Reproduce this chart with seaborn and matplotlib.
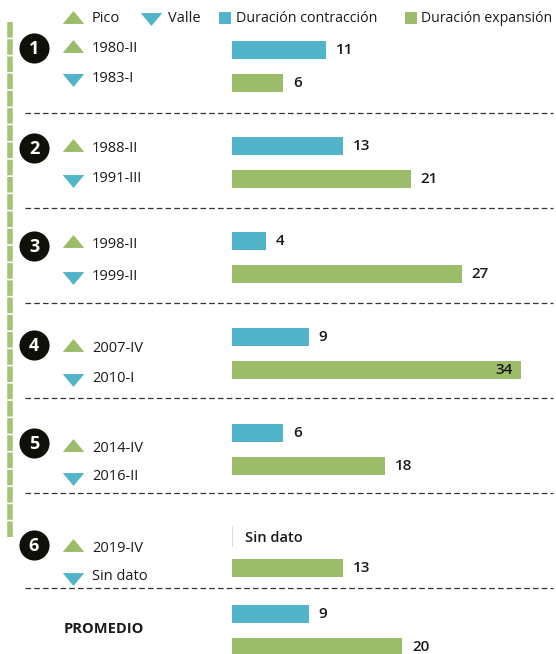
import numpy as np
import pandas as pd
import matplotlib
matplotlib.use('Agg')
import matplotlib.pyplot as plt
import seaborn as sns

sns.set_style('white')
plt.rcParams['font.family'] = ['Open Sans', 'DejaVu Sans']

# datos
grupos = ['1', '2', '3', '4', '5', '6']
pico = ['1980-II', '1988-II', '1998-II', '2007-IV', '2014-IV', '2019-IV']
valle = ['1983-I', '1991-III', '1999-II', '2010-I', '2016-II', 'Sin dato']
contraccion = [11, 13, 4, 9, 6, np.nan]
expansion = [6, 21, 27, 34, 18, 13]
promedio_contraccion = 9
promedio_expansion = 20

AZUL = '#52b4c8'
VERDE = '#9bbd69'
TXT = '#1a1a1a'
W, H = 556, 654
PX_UNIT = 8.5      # pixeles por trimestre
X0 = 232           # inicio de barras (px)

# posiciones de filas (px desde arriba)
y_contr = [50, 146, 241, 337, 433, 538, 614]
y_expan = [83, 179, 274, 370, 466, 568, 647]
y_pico = [49, 148, 244, 348, 448, 548]
y_valle = [78, 179, 276, 378, 477, 577]
y_circ = [48, 148, 246, 345, 443, 545]
y_sep = [113, 208, 303, 398, 493, 588]

filas = []
for i, g in enumerate(grupos):
    if not np.isnan(contraccion[i]):
        filas.append(['Duración contracción', contraccion[i], y_contr[i]])
    filas.append(['Duración expansión', expansion[i], y_expan[i]])
filas.append(['Duración contracción', promedio_contraccion, y_contr[-1]])
filas.append(['Duración expansión', promedio_expansion, y_expan[-1]])
df = pd.DataFrame(filas, columns=['Tipo', 'Valor', 'Y'])

fig = plt.figure(figsize=(W / 100, H / 100), dpi=100)
ax = fig.add_axes([0, 0, 1, 1])
min_gap = np.diff(np.sort(df['Y'].unique())).min()
sns.barplot(data=df, x='Valor', y='Y', hue='Tipo', orient='h', native_scale=True,
            dodge=False, errorbar=None, width=18 / min_gap, saturation=1,
            palette={'Duración contracción': AZUL, 'Duración expansión': VERDE},
            legend=False, ax=ax, linewidth=0)
ax.set_xlim(-X0 / PX_UNIT, (W - X0) / PX_UNIT)
ax.set_ylim(H, 0)
ax.axis('off')

# etiquetas de valor
for _, r in df.iterrows():
    v = r['Valor']
    if v >= 30:
        ax.text(v - 8 / PX_UNIT, r['Y'], f'{int(v)}', ha='right', va='center',
                fontsize=11, fontweight='semibold', color=TXT)
    else:
        ax.text(v + 10 / PX_UNIT, r['Y'], f'{int(v)}', ha='left', va='center',
                fontsize=11, fontweight='semibold', color=TXT)

# capa de anotaciones en pixeles
ov = fig.add_axes([0, 0, 1, 1], zorder=3)
ov.set_xlim(0, W)
ov.set_ylim(H, 0)
ov.axis('off')
ov.patch.set_alpha(0)

tri_up = [(-1, -0.6), (1, -0.6), (0, 0.6)]
tri_dn = [(-1, 0.6), (1, 0.6), (0, -0.6)]
TS = 240

# leyenda
ov.scatter([73], [17], marker=tri_up, s=TS, color=VERDE, linewidths=0)
ov.text(92, 18, 'Pico', va='center', fontsize=10.5, color=TXT)
ov.scatter([151], [19], marker=tri_dn, s=TS, color=AZUL, linewidths=0)
ov.text(168, 18, 'Valle', va='center', fontsize=10.5, color=TXT)
ov.scatter([225], [18], marker='s', s=85, color=AZUL, linewidths=0)
ov.text(236, 18, 'Duración contracción', va='center', fontsize=10.3, color=TXT)
ov.scatter([411], [18], marker='s', s=85, color=VERDE, linewidths=0)
ov.text(421, 18, 'Duración expansión', va='center', fontsize=10.1, color=TXT)

# linea vertical verde
ov.plot([10, 10], [22, 537], color='#a5c476', linewidth=4,
        linestyle=(0, (2.8, 0.3)), solid_capstyle='butt')

for i, g in enumerate(grupos):
    ov.scatter([34], [y_circ[i]], s=470, color='#111008', linewidths=0, zorder=4)
    ov.text(34, y_circ[i] + 1, g, ha='center', va='center', color='white',
            fontsize=13, fontweight='bold', zorder=5)
    ov.scatter([73], [y_pico[i] - 3], marker=tri_up, s=TS, color=VERDE, linewidths=0)
    ov.text(92, y_pico[i], pico[i], va='center', fontsize=10.5, color=TXT)
    ov.scatter([73], [y_valle[i] + 2], marker=tri_dn, s=TS, color=AZUL, linewidths=0)
    ov.text(92, y_valle[i], valle[i], va='center', fontsize=10.5, color=TXT)

# separadores
for y in y_sep:
    ov.plot([25, 553], [y, y], color='#333333', linewidth=0.9, linestyle=(0, (4.5, 2.5)))

# sin dato
ov.plot([232, 232], [526, 546], color='#dddddd', linewidth=0.8)
ov.text(245, 538, 'Sin dato', va='center', fontsize=10.5, fontweight='semibold', color=TXT)

ov.text(64, 629, 'PROMEDIO', va='center', fontsize=10.5, fontweight='bold', color=TXT)

fig.savefig('out.png', dpi=100)
